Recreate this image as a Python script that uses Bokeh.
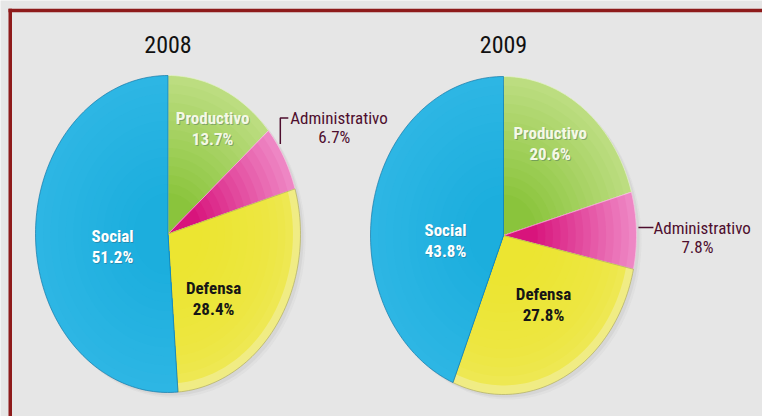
import numpy as np
from bokeh.plotting import figure
from bokeh.models import Range1d
from bokeh.core.properties import value
from bokeh.embed import file_html
from bokeh.resources import INLINE

# ---------------- data ----------------
years = ["2008", "2009"]
categories = ["Productivo", "Administrativo", "Defensa", "Social"]
shares_2008 = [13.7, 6.7, 28.4, 51.2]
shares_2009 = [20.6, 7.8, 27.8, 43.8]
shares = {"2008": shares_2008, "2009": shares_2009}

# ---------------- layout / style ----------------
W, H = 762, 416
BG = "#E6E6E6"
# pie ellipse geometry (centre x, centre y, radius x, radius y) in page pixels
geom = {"2008": (167.5, 233.5, 132.5, 158.5), "2009": (503.0, 235.0, 133.0, 159.0)}
# colour gradients (outer, inner, gamma)
grad = {
    "Productivo": ("#BCDD80", "#8AC43C", 1.0),
    "Administrativo": ("#EE86C4", "#D8147C", 1.0),
    "Defensa": ("#F0EC84", "#ECE531", 0.2),
    "Social": ("#2DB6E4", "#1CAEDD", 1.0),
}
edge = {"Productivo": "#E4F2C8", "Administrativo": "#F6C6E2", "Defensa": "#B0AE60", "Social": "#1679A8"}
# label placement: (radius factor, angle offset deg)
label_pos = {
    "2008": {"Productivo": (0.75, 2), "Social": (0.426, -8.5), "Defensa": (0.53, 15)},
    "2009": {"Productivo": (0.68, -6), "Social": (0.437, -14.5), "Defensa": (0.523, -7.4)},
}
label_col = {"Productivo": "#F4F8E6", "Social": "#FFFFFF", "Defensa": "#161616"}
FONT = "Liberation Sans Narrow, Roboto Condensed, DejaVu Sans Condensed, sans-serif"
ADMIN_COL = "#4E0E2E"


def hex2rgb(h):
    h = h.lstrip("#")
    return np.array([int(h[i:i + 2], 16) for i in (0, 2, 4)], dtype=float)


def mix(a, b, t):
    c = hex2rgb(a) * (1 - t) + hex2rgb(b) * t
    return "#%02x%02x%02x" % tuple(int(round(v)) for v in c)


def wedge(cx, cy, rx, ry, a0, a1, s=1.0):
    n = max(3, int(abs(a1 - a0) / (2 * np.pi) * 240))
    th = np.linspace(a0, a1, n)
    xs = [cx] + list(cx + s * rx * np.sin(th)) + [cx]
    ys = [cy] + list(cy - s * ry * np.cos(th)) + [cy]
    return xs, ys


p = figure(width=W, height=H, x_range=Range1d(0, W), y_range=Range1d(H, 0),
           x_axis_type=None, y_axis_type=None, output_backend="svg", toolbar_location=None,
           min_border=0, min_border_left=0, min_border_right=0, min_border_top=0,
           min_border_bottom=0, background_fill_color=BG, border_fill_color=BG,
           outline_line_color=None)
p.grid.visible = False

for yr in years:
    cx, cy, rx, ry = geom[yr]
    vals = np.array(shares[yr], dtype=float)
    fr = vals / vals.sum()
    ends = np.cumsum(fr) * 2 * np.pi
    starts = ends - fr * 2 * np.pi

    # soft shadow
    th = np.linspace(0, 2 * np.pi, 240)
    for off, al in ((5, 0.08), (3, 0.14)):
        p.patch(cx + off + rx * np.sin(th), cy + off + ry * np.cos(th),
                fill_color="#9A9A9A", fill_alpha=al, line_color=None)

    # slices with radial gradient rings
    N = 14
    for cat, a0, a1 in zip(categories, starts, ends):
        outer, inner, gam = grad[cat]
        xs_l, ys_l, cols = [], [], []
        for i in range(N):
            s = 1.0 - i * 0.8 / N
            t = (i / (N - 1)) ** gam
            xs, ys = wedge(cx, cy, rx, ry, a0, a1, s)
            xs_l.append(xs)
            ys_l.append(ys)
            cols.append(mix(outer, inner, t))
        p.patches(xs_l, ys_l, fill_color=cols, line_color=None)
        xs, ys = wedge(cx, cy, rx, ry, a0, a1)
        p.patch(xs, ys, fill_color=None, line_color=edge[cat], line_width=1, line_alpha=0.7)

    # title
    p.text(x=[cx], y=[44], text=[yr], text_font=value(FONT), text_font_size="24px",
           text_color="#111111", text_align="center", text_baseline="middle")

    # inner labels
    for cat, v, a0, a1 in zip(categories, vals, starts, ends):
        if cat == "Administrativo":
            continue
        rf, doff = label_pos[yr][cat]
        am = (a0 + a1) / 2 + np.deg2rad(doff)
        lx = cx + rf * rx * np.sin(am)
        ly = cy - rf * ry * np.cos(am)
        txt = [cat, f"{v:.1f}%"]
        if cat != "Defensa":
            p.text(x=[lx + 1, lx + 1], y=[ly - 10 + 1, ly + 11 + 1], text=txt,
                   text_font=value(FONT), text_font_size="17px", text_font_style="bold",
                   text_color="#2A4A5A", text_alpha=0.35, text_align="center",
                   text_baseline="middle")
        p.text(x=[lx, lx], y=[ly - 10, ly + 11], text=txt, text_font=value(FONT),
               text_font_size="17px", text_font_style="bold", text_color=label_col[cat],
               text_align="center", text_baseline="middle")

    # Administrativo callout
    ia = categories.index("Administrativo")
    am = (starts[ia] + ends[ia]) / 2
    ex = cx + rx * np.sin(am)
    ey = cy - ry * np.cos(am)
    atxt = [categories[ia], f"{vals[ia]:.1f}%"]
    if yr == "2008":
        bx = ex - 4
        by0 = ey - 14
        by1 = by0 - 26
        p.line([bx, bx, bx + 8], [by0, by1, by1], line_color=ADMIN_COL, line_width=1.5)
        tx, ty = bx + 10, by1
    else:
        p.line([ex + 2, ex + 17], [ey - 3, ey - 3], line_color=ADMIN_COL, line_width=1.5)
        tx, ty = ex + 17, ey - 3
    p.text(x=[tx], y=[ty], text=[atxt[0]], text_font=value(FONT), text_font_size="17px",
           text_color=ADMIN_COL, text_align="left", text_baseline="middle")
    p.text(x=[tx + 44], y=[ty + 19], text=[atxt[1]], text_font=value(FONT),
           text_font_size="17px", text_color=ADMIN_COL, text_align="center",
           text_baseline="middle")

# frame border (top and left), as filled bars
p.quad(left=[8, 8], right=[W, 11.5], top=[8.3, 8.3], bottom=[11.7, H],
       fill_color="#8E1B1B", line_color=None)

open("out.html", "w").write(file_html(p, INLINE))
